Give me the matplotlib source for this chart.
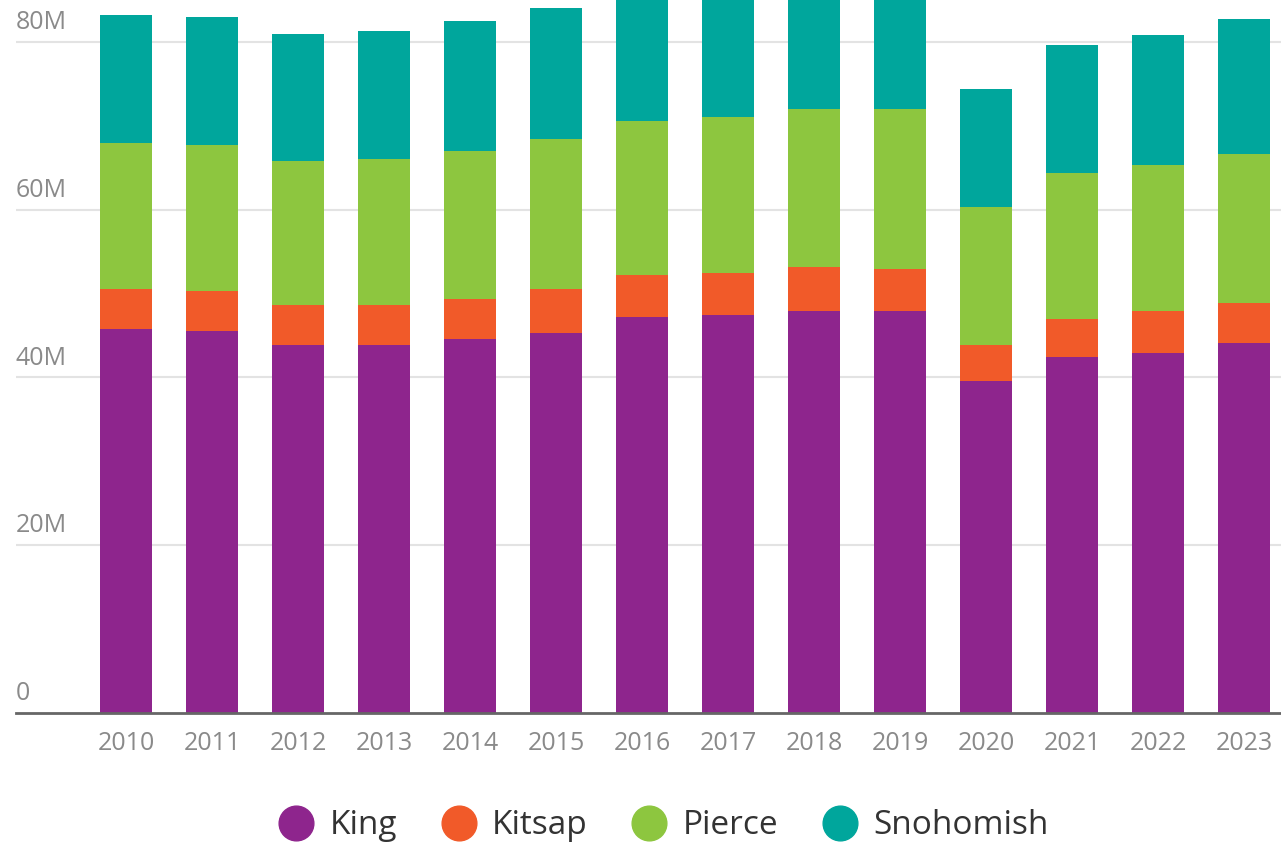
import numpy as np
from matplotlib import pyplot as plt
from matplotlib.lines import Line2D

years = ['2010', '2011', '2012', '2013', '2014', '2015', '2016',
         '2017', '2018', '2019', '2020', '2021', '2022', '2023']
king = [45.8, 45.5, 43.9, 43.9, 44.6, 45.3, 47.2, 47.4, 47.9, 47.9, 39.6, 42.4, 42.9, 44.1]
kitsap = [4.7, 4.8, 4.7, 4.7, 4.7, 5.2, 5.0, 5.0, 5.3, 5.0, 4.3, 4.6, 5.0, 4.8]
pierce = [17.4, 17.4, 17.2, 17.4, 17.7, 17.9, 18.4, 18.6, 18.8, 19.1, 16.4, 17.4, 17.4, 17.8]
snohomish = [15.3, 15.3, 15.2, 15.3, 15.5, 15.7, 16.0, 16.2, 16.2, 16.3, 14.1, 15.2, 15.5, 16.0]

names = ['King', 'Kitsap', 'Pierce', 'Snohomish']
colors = ['#8E258D', '#F15A29', '#8DC63F', '#00A69C']
series = [king, kitsap, pierce, snohomish]

plt.rcParams['font.family'] = ['Open Sans', 'DejaVu Sans']

fig = plt.figure(figsize=(12.81, 8.44), dpi=100)
ax = fig.add_axes([16 / 1281, 1 - 713 / 844, 1 - 16 / 1281, 713 / 844])

x = np.arange(len(years))
bottom = np.zeros(len(years))
for vals, c in zip(series, colors):
    vals = np.array(vals) * 1e6
    ax.bar(x, vals, 0.6, bottom=bottom, color=c, zorder=2)
    bottom += vals

ax.set_xlim(-1.28, 13.43)
ax.set_ylim(0, 85e6)

ticks = [0, 20e6, 40e6, 60e6, 80e6]
tick_labels = ['0', '20M', '40M', '60M', '80M']
for t, lab in zip(ticks, tick_labels):
    if t > 0:
        ax.axhline(t, color='#e3e3e3', lw=1.5, zorder=1)
    ax.annotate(lab, (0, t), xycoords=('axes fraction', 'data'),
                xytext=(0, 5), textcoords='offset points',
                ha='left', va='bottom', fontsize=18, color='#8a8a8a')

ax.set_yticks([])
ax.set_xticks([])
for s in ['top', 'right', 'left']:
    ax.spines[s].set_visible(False)
ax.spines['bottom'].set_color('#666666')
ax.spines['bottom'].set_linewidth(2)
ax.spines['bottom'].set_zorder(3)

for xi, lab in zip(x, years):
    ax.annotate(lab, (xi, 0), xycoords='data', xytext=(0, -13),
                textcoords='offset points', ha='center', va='top',
                fontsize=18, color='#8a8a8a', annotation_clip=False)

handles = [Line2D([], [], marker='o', ls='', markersize=25, color=c) for c in colors]
fig.legend(handles, names, loc='center', bbox_to_anchor=(664 / 1281, 1 - 826 / 844),
           ncol=4, frameon=False, fontsize=24, labelcolor='#333333',
           handletextpad=0.5, columnspacing=1.35, handlelength=1.0)

fig.savefig('out.png', dpi=100)
